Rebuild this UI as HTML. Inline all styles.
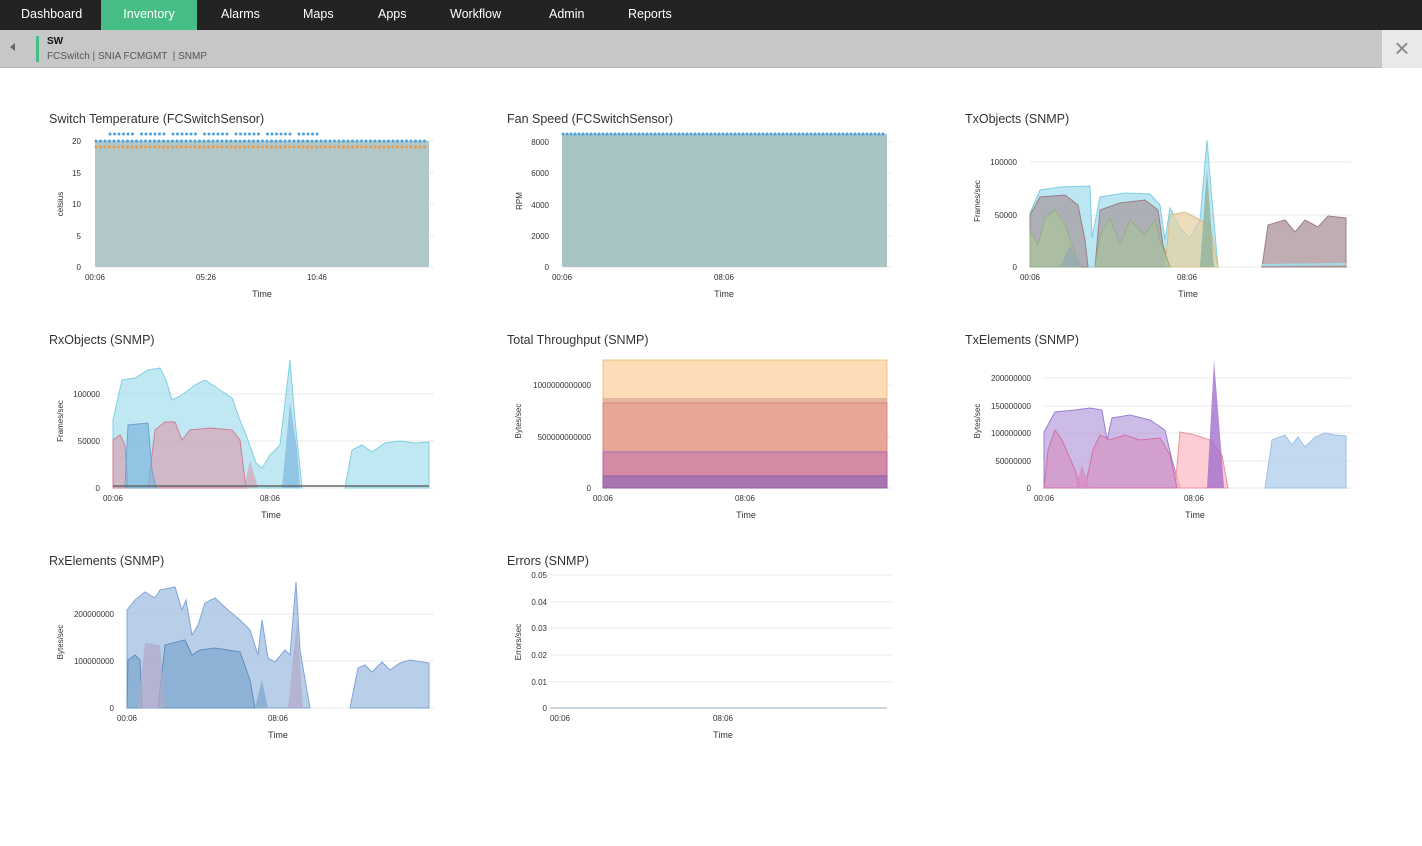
<!DOCTYPE html>
<html><head><meta charset="utf-8"><style>
*{margin:0;padding:0;box-sizing:border-box}
body{width:1422px;height:846px;background:#fff;font-family:"Liberation Sans",sans-serif;position:relative;overflow:hidden}
#nav{position:absolute;left:0;top:0;width:1422px;height:30px;background:#232323}
#nav span{position:absolute;top:0;height:30px;line-height:29px;color:#fff;font-size:12.5px}
#sub{position:absolute;left:0;top:30px;width:1422px;height:38px;background:#c6c7c9;border-bottom:1px solid #b5b5b5}
svg{position:absolute;left:0;top:0}
svg text{font-family:"Liberation Sans",sans-serif}
.t{font-size:12.5px;fill:#333}
.k{font-size:8px;fill:#333}
.a{font-size:9px;fill:#333}
.g{stroke:#e8e8e8;stroke-width:1}
</style></head><body>
<div id="nav">
<span style="left:21px">Dashboard</span>
<span style="left:101px;width:96px;background:#46bd84;text-align:center">Inventory</span>
<span style="left:221px">Alarms</span>
<span style="left:303px">Maps</span>
<span style="left:378px">Apps</span>
<span style="left:450px">Workflow</span>
<span style="left:549px">Admin</span>
<span style="left:628px">Reports</span>
</div>
<div id="sub">
<div style="position:absolute;left:10px;top:13px;width:0;height:0;border-top:4px solid transparent;border-bottom:4px solid transparent;border-right:5px solid #666"></div>
<div style="position:absolute;left:36px;top:6px;width:3px;height:26px;background:#46bd84"></div>
<div style="position:absolute;left:47px;top:6px;font-size:10px;font-weight:bold;color:#111">SW</div>
<div style="position:absolute;left:47px;top:21px;font-size:10px;color:#555">FCSwitch | SNIA FCMGMT &nbsp;| SNMP</div>
<div style="position:absolute;left:1382px;top:0;width:40px;height:38px;background:#e9e9ea;color:#888;font-size:26px;text-align:center;line-height:36px">×</div>
</div>
<svg width="1422" height="846">
<!-- Chart 1 -->
<text x="49" y="123" class="t">Switch Temperature (FCSwitchSensor)</text>
<g class="g"><line x1="95" y1="141" x2="434" y2="141"/><line x1="95" y1="173" x2="434" y2="173"/><line x1="95" y1="204" x2="434" y2="204"/><line x1="95" y1="236" x2="434" y2="236"/><line x1="95" y1="267" x2="434" y2="267"/></g>
<rect x="95" y="141" width="334" height="126" fill="#b2c8c8"/>
<line x1="96" y1="141" x2="429" y2="141" stroke="#4aa3e0" stroke-width="3" stroke-dasharray="0 4.5" stroke-linecap="round"/>
<line x1="110" y1="134" x2="320" y2="134" stroke="#4aa3e0" stroke-width="3" stroke-dasharray="0 4.5 0 4.5 0 4.5 0 4.5 0 4.5 0 9" stroke-linecap="round"/>
<line x1="96" y1="147" x2="429" y2="147" stroke="#e89b50" stroke-width="3" stroke-dasharray="0 4.5" stroke-linecap="round"/>
<g class="k" text-anchor="end"><text x="81" y="144">20</text><text x="81" y="176">15</text><text x="81" y="207">10</text><text x="81" y="239">5</text><text x="81" y="270">0</text></g>
<g class="k" text-anchor="middle"><text x="95" y="280">00:06</text><text x="206" y="280">05:26</text><text x="317" y="280">10:46</text></g>
<text x="262" y="297" class="a" text-anchor="middle">Time</text>
<text transform="translate(63,204) rotate(-90)" class="k" text-anchor="middle">celsius</text>
<!-- Chart 2 -->
<text x="507" y="123" class="t">Fan Speed (FCSwitchSensor)</text>
<g class="g"><line x1="562" y1="142" x2="892" y2="142"/><line x1="562" y1="173" x2="892" y2="173"/><line x1="562" y1="205" x2="892" y2="205"/><line x1="562" y1="236" x2="892" y2="236"/><line x1="562" y1="267" x2="892" y2="267"/></g>
<rect x="562" y="134" width="325" height="133" fill="#a9c4c4"/>
<line x1="563" y1="134" x2="887" y2="134" stroke="#4aa3e0" stroke-width="3" stroke-dasharray="0 4" stroke-linecap="round"/>
<g class="k" text-anchor="end"><text x="549" y="145">8000</text><text x="549" y="176">6000</text><text x="549" y="208">4000</text><text x="549" y="239">2000</text><text x="549" y="270">0</text></g>
<g class="k" text-anchor="middle"><text x="562" y="280">00:06</text><text x="724" y="280">08:06</text></g>
<text x="724" y="297" class="a" text-anchor="middle">Time</text>
<text transform="translate(522,201) rotate(-90)" class="k" text-anchor="middle">RPM</text>
<!-- Chart 3 TxObjects -->
<text x="965" y="123" class="t">TxObjects (SNMP)</text>
<g class="g"><line x1="1030" y1="162" x2="1351" y2="162"/><line x1="1030" y1="215" x2="1351" y2="215"/><line x1="1030" y1="267" x2="1351" y2="267"/></g>
<polygon fill="#9edcec" fill-opacity=".7" stroke="#7fcfe2" points="1030,267 1030,213 1040,190 1060,187 1090,186 1092,238 1100,197 1125,193 1150,194 1160,205 1165,240 1170,208 1180,228 1190,238 1200,220 1207,140 1212,200 1218,267"/>
<polygon fill="#a48a90" fill-opacity=".6" stroke="#9a7f86" points="1030,267 1030,215 1040,197 1065,195 1078,205 1085,240 1088,267"/>
<polygon fill="#a48a90" fill-opacity=".6" stroke="#9a7f86" points="1095,267 1100,210 1120,203 1145,200 1158,210 1163,245 1170,267"/>
<polygon fill="#e7cf9f" fill-opacity=".7" stroke="#d8bc85" points="1165,267 1170,215 1185,212 1200,220 1210,225 1218,267"/>
<polygon fill="#a9c39a" fill-opacity=".7" stroke="#93b084" points="1030,267 1030,230 1038,245 1045,218 1055,210 1065,225 1072,245 1080,267"/>
<polygon fill="#a9c39a" fill-opacity=".6" stroke="#93b084" points="1095,267 1100,235 1110,218 1120,245 1130,220 1145,235 1155,220 1160,240 1170,267"/>
<polygon fill="#93a8b8" fill-opacity=".7" points="1060,267 1070,245 1078,260 1082,267"/>
<polygon fill="#8fb39a" fill-opacity=".8" points="1200,267 1207,170 1214,267"/>
<polygon fill="#a48a90" fill-opacity=".7" stroke="#9a7f86" points="1262,267 1268,225 1285,220 1295,232 1305,220 1318,227 1328,216 1346,218 1346,267"/>
<line x1="1262" y1="265" x2="1346" y2="264" stroke="#9edcec" stroke-width="2"/>
<g class="k" text-anchor="end"><text x="1017" y="165">100000</text><text x="1017" y="218">50000</text><text x="1017" y="270">0</text></g>
<g class="k" text-anchor="middle"><text x="1030" y="280">00:06</text><text x="1187" y="280">08:06</text></g>
<text x="1188" y="297" class="a" text-anchor="middle">Time</text>
<text transform="translate(980,201) rotate(-90)" class="k" text-anchor="middle">Frames/sec</text>
<!-- Chart 4 RxObjects -->
<text x="49" y="344" class="t">RxObjects (SNMP)</text>
<g class="g"><line x1="113" y1="394" x2="434" y2="394"/><line x1="113" y1="441" x2="434" y2="441"/><line x1="113" y1="488" x2="434" y2="488"/></g>
<polygon fill="#9edcec" fill-opacity=".65" stroke="#7fcfe2" points="113,488 113,420 122,380 135,378 148,370 160,368 166,380 172,400 182,395 195,385 205,380 220,390 232,398 240,420 248,440 256,463 262,468 270,455 280,445 290,360 295,420 302,488"/>
<polygon fill="#9edcec" fill-opacity=".65" stroke="#7fcfe2" points="345,488 352,450 362,445 372,452 385,443 400,441 415,443 429,442 429,488"/>
<polygon fill="#d99aae" fill-opacity=".6" stroke="#d27d96" points="113,488 113,440 120,435 125,445 128,488"/>
<polygon fill="#d99aae" fill-opacity=".6" stroke="#d27d96" points="148,488 155,430 165,422 175,422 182,440 190,430 210,428 232,430 240,440 246,488"/>
<polygon fill="#7fb6dc" fill-opacity=".7" stroke="#6aa4cf" points="125,488 128,425 148,423 152,470 156,488"/>
<polygon fill="#7fb6dc" fill-opacity=".7" points="282,488 290,402 297,450 300,488"/>
<polygon fill="#d99aae" fill-opacity=".6" points="244,488 250,460 258,488"/>
<line x1="113" y1="486" x2="429" y2="486" stroke="#666" stroke-width="1.5"/>
<g class="k" text-anchor="end"><text x="100" y="397">100000</text><text x="100" y="444">50000</text><text x="100" y="491">0</text></g>
<g class="k" text-anchor="middle"><text x="113" y="501">00:06</text><text x="270" y="501">08:06</text></g>
<text x="271" y="518" class="a" text-anchor="middle">Time</text>
<text transform="translate(63,421) rotate(-90)" class="k" text-anchor="middle">Frames/sec</text>
<!-- Chart 5 -->
<text x="507" y="344" class="t">Total Throughput (SNMP)</text>
<g class="g"><line x1="603" y1="385" x2="892" y2="385"/><line x1="603" y1="437" x2="892" y2="437"/><line x1="603" y1="488" x2="892" y2="488"/></g>
<rect x="603" y="360" width="284" height="128" fill="#fddcb8" stroke="#f0c080"/>
<rect x="603" y="398" width="284" height="90" fill="#e3b59e"/>
<rect x="603" y="403" width="284" height="85" fill="#e6a796" stroke="#d9868a"/>
<rect x="603" y="452" width="284" height="36" fill="#d48aa4" stroke="#a56ab8"/>
<rect x="603" y="476" width="284" height="12" fill="#a974b0" stroke="#9060a8"/>
<g class="k" text-anchor="end"><text x="591" y="388">1000000000000</text><text x="591" y="440">500000000000</text><text x="591" y="491">0</text></g>
<g class="k" text-anchor="middle"><text x="603" y="501">00:06</text><text x="745" y="501">08:06</text></g>
<text x="746" y="518" class="a" text-anchor="middle">Time</text>
<text transform="translate(521,421) rotate(-90)" class="k" text-anchor="middle">Bytes/sec</text>
<!-- Chart 6 TxElements -->
<text x="965" y="344" class="t">TxElements (SNMP)</text>
<g class="g"><line x1="1044" y1="378" x2="1351" y2="378"/><line x1="1044" y1="406" x2="1351" y2="406"/><line x1="1044" y1="433" x2="1351" y2="433"/><line x1="1044" y1="461" x2="1351" y2="461"/><line x1="1044" y1="488" x2="1351" y2="488"/></g>
<polygon fill="#b59edc" fill-opacity=".7" stroke="#9b7fd0" points="1044,488 1044,432 1055,412 1075,410 1090,408 1102,410 1107,440 1112,418 1130,415 1150,420 1165,430 1172,460 1180,488"/>
<polygon fill="#fdb8c0" fill-opacity=".7" stroke="#f090a0" points="1175,488 1180,432 1195,435 1210,440 1222,455 1228,488"/>
<polygon fill="#d98cc0" fill-opacity=".6" stroke="#d070a8" points="1044,488 1048,450 1055,430 1062,440 1075,470 1080,488"/>
<polygon fill="#d98cc0" fill-opacity=".6" stroke="#d070a8" points="1085,488 1093,450 1100,435 1110,440 1125,435 1140,440 1160,438 1170,455 1177,488"/>
<polygon fill="#a26fcc" fill-opacity=".8" points="1207,488 1214,360 1222,460 1224,488"/>
<polygon fill="#d98cc0" fill-opacity=".8" points="1075,488 1082,465 1090,488"/>
<polygon fill="#bcd5ee" fill-opacity=".9" stroke="#9cc1e6" points="1265,488 1272,440 1285,435 1292,445 1298,437 1305,447 1315,437 1325,433 1335,435 1346,436 1346,488"/>
<g class="k" text-anchor="end"><text x="1031" y="381">200000000</text><text x="1031" y="409">150000000</text><text x="1031" y="436">100000000</text><text x="1031" y="464">50000000</text><text x="1031" y="491">0</text></g>
<g class="k" text-anchor="middle"><text x="1044" y="501">00:06</text><text x="1194" y="501">08:06</text></g>
<text x="1195" y="518" class="a" text-anchor="middle">Time</text>
<text transform="translate(980,421) rotate(-90)" class="k" text-anchor="middle">Bytes/sec</text>
<!-- Chart 7 RxElements -->
<text x="49" y="565" class="t">RxElements (SNMP)</text>
<g class="g"><line x1="127" y1="614" x2="434" y2="614"/><line x1="127" y1="661" x2="434" y2="661"/><line x1="127" y1="708" x2="434" y2="708"/></g>
<polygon fill="#a8c2e4" fill-opacity=".8" stroke="#7fa6d6" points="127,708 127,610 135,600 145,592 155,598 160,590 175,587 182,610 186,600 192,635 198,625 205,603 215,598 228,610 240,620 250,630 258,655 262,620 268,658 275,662 285,650 290,655 296,582 300,650 310,708"/>
<polygon fill="#a8c2e4" fill-opacity=".8" stroke="#7fa6d6" points="350,708 358,668 365,665 372,672 382,662 390,670 400,663 410,660 429,663 429,708"/>
<polygon fill="#7aa6cc" fill-opacity=".7" stroke="#5f8fbf" points="127,708 128,660 135,655 140,660 142,708"/>
<polygon fill="#7aa6cc" fill-opacity=".7" stroke="#5f8fbf" points="158,708 165,645 185,640 192,655 200,650 215,648 240,652 250,680 255,708"/>
<polygon fill="#b2a8c8" fill-opacity=".7" points="138,708 145,643 160,645 165,708"/>
<polygon fill="#b2a8c8" fill-opacity=".7" points="288,708 297,620 303,708"/>
<polygon fill="#7aa6cc" fill-opacity=".7" points="255,708 262,680 268,708"/>
<g class="k" text-anchor="end"><text x="114" y="617">200000000</text><text x="114" y="664">100000000</text><text x="114" y="711">0</text></g>
<g class="k" text-anchor="middle"><text x="127" y="721">00:06</text><text x="278" y="721">08:06</text></g>
<text x="278" y="738" class="a" text-anchor="middle">Time</text>
<text transform="translate(63,642) rotate(-90)" class="k" text-anchor="middle">Bytes/sec</text>
<!-- Chart 8 Errors -->
<text x="507" y="565" class="t">Errors (SNMP)</text>
<g class="g"><line x1="550" y1="575" x2="892" y2="575"/><line x1="550" y1="602" x2="892" y2="602"/><line x1="550" y1="628" x2="892" y2="628"/><line x1="550" y1="655" x2="892" y2="655"/><line x1="550" y1="682" x2="892" y2="682"/></g>
<line x1="550" y1="708" x2="887" y2="708" stroke="#bcc6d4" stroke-width="1.5"/>
<g class="k" text-anchor="end"><text x="547" y="578">0.05</text><text x="547" y="605">0.04</text><text x="547" y="631">0.03</text><text x="547" y="658">0.02</text><text x="547" y="685">0.01</text><text x="547" y="711">0</text></g>
<g class="k" text-anchor="middle"><text x="560" y="721">00:06</text><text x="723" y="721">08:06</text></g>
<text x="723" y="738" class="a" text-anchor="middle">Time</text>
<text transform="translate(521,642) rotate(-90)" class="k" text-anchor="middle">Errors/sec</text>
</svg>
</body></html>
